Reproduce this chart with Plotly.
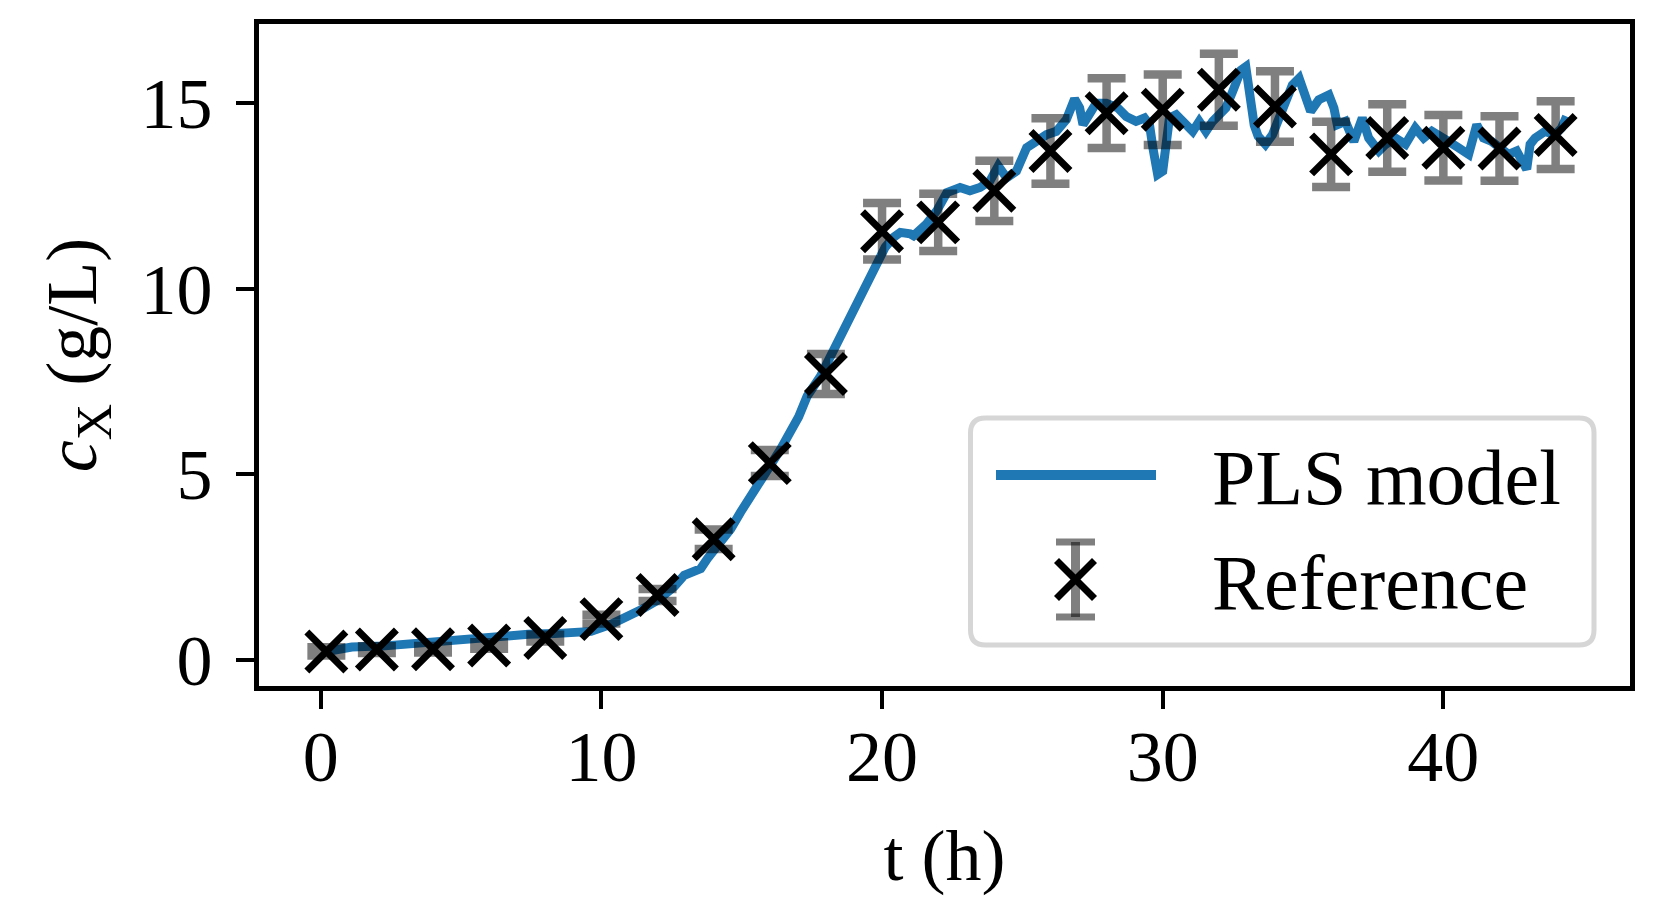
import plotly.graph_objects as go

# ---------------- data ----------------
# PLS model prediction (t in h, c_X in g/L)
model_t = [0.2, 0.52, 1.11, 2.29, 3.12, 4.07, 4.78, 5.49, 6.44, 7.39, 8.33, 9.16, 9.63,
           10.34, 10.82, 11.41, 12.0, 12.59, 12.95, 13.30, 13.54, 13.78, 14.13, 14.61,
           14.96, 15.32, 15.61, 16.03, 16.38, 16.74, 17.03, 17.33, 17.80, 18.22, 18.51,
           18.75, 19.05, 19.34, 19.64, 19.88, 20.11, 20.41, 20.65, 21.0, 21.12, 21.59,
           21.95, 22.31, 22.78, 23.13, 23.49, 23.84, 24.14, 24.44, 24.79, 25.15, 25.50,
           25.86, 26.21, 26.57, 26.86, 27.04, 27.16, 27.40, 27.63, 27.99, 28.40, 28.70,
           29.05, 29.35, 29.53, 29.65, 29.82, 30.0, 30.12, 30.24, 30.48, 30.83, 31.07,
           31.30, 31.54, 31.78, 32.07, 32.25, 32.49, 32.79, 32.96, 33.10, 33.26, 33.40,
           33.66, 33.91, 34.26, 34.62, 34.86, 35.09, 35.27, 35.56, 35.92, 36.10, 36.22,
           36.51, 36.81, 37.11, 37.34, 37.70, 37.94, 38.29, 38.65, 39.0, 39.30, 39.59,
           39.83, 40.18, 40.54, 40.90, 41.19, 41.43, 41.72, 42.08, 42.32, 42.61, 42.79,
           42.97, 43.09, 43.27, 43.62, 43.98, 44.21, 44.39]
model_cx = [0.23, 0.29, 0.35, 0.38, 0.44, 0.48, 0.52, 0.57, 0.63, 0.69, 0.71, 0.74, 0.77,
            0.96, 1.12, 1.35, 1.61, 1.97, 2.28, 2.42, 2.46, 2.73, 3.04, 3.53,
            3.98, 4.38, 4.74, 5.25, 5.67, 6.12, 6.55, 7.10, 7.63, 8.26, 8.70,
            8.97, 9.51, 9.95, 10.40, 10.75, 11.11, 11.38, 11.51, 11.47, 11.42, 11.74,
            12.09, 12.58, 12.72, 12.63, 12.72, 12.89, 13.30, 12.98, 13.16, 13.79, 13.96,
            14.14, 14.23, 14.55, 15.10, 14.86, 14.41, 14.77, 14.99, 14.99, 14.86, 14.63,
            14.50, 14.59, 14.41, 13.79, 13.07, 13.16, 13.96, 14.59, 14.68, 14.41, 14.23,
            14.50, 14.23, 14.50, 14.77, 14.86, 15.30, 15.88, 15.97, 15.10, 14.40, 14.10,
            13.88, 14.14, 14.86, 15.48, 15.66, 15.21, 14.77, 15.08, 15.21, 14.86, 14.41,
            14.50, 13.96, 14.59, 14.05, 13.70, 13.88, 14.05, 13.88, 14.32, 14.05, 14.23,
            14.14, 13.96, 13.79, 13.61, 14.41, 14.05, 13.96, 13.79, 13.61, 13.70, 13.43,
            13.21, 13.88, 14.05, 14.23, 14.14, 14.32, 14.63]

# Reference (offline) measurements with error bars
ref_t = [0.2, 2, 4, 6, 8, 10, 12, 14, 16, 18, 20, 22, 24, 26, 28, 30, 32, 34, 36, 38, 40, 42, 44]
ref_cx = [0.23, 0.28, 0.29, 0.39, 0.59, 1.10, 1.75, 3.25, 5.30, 7.70, 11.54, 11.78, 12.63,
          13.70, 14.72, 14.81, 15.35, 14.90, 13.61, 14.05, 13.79, 13.77, 14.13]
ref_err = [0.11, 0.09, 0.09, 0.09, 0.09, 0.12, 0.16, 0.26, 0.35, 0.54, 0.76, 0.77, 0.81,
           0.88, 0.94, 0.95, 0.97, 0.95, 0.88, 0.91, 0.88, 0.87, 0.91]

x_ticks = [0, 10, 20, 30, 40]
y_ticks = [0, 5, 10, 15]
x_title = "t (h)"
y_title = "<i>c</i><sub>X</sub> (g/L)"
legend_labels = ["PLS model", "Reference"]

# ---------------- styling ----------------
W, H = 1660, 921
OFF = 8                                   # default page body margin of the html
L, R, T, B = 259, 1630, 24, 686          # target plot-area pixel box (page coords)
BLUE = "#1f77b4"
ERR = "rgba(0,0,0,0.5)"
FONT = "Liberation Serif"
FS = 72


def px(x):
    return (x - L) / (R - L)


def py(y):
    return (B - y) / (B - T)


fig = go.Figure()
fig.add_trace(go.Scatter(x=model_t, y=model_cx, mode="lines",
                         line=dict(color=BLUE, width=9), name=legend_labels[0],
                         showlegend=False))
fig.add_trace(go.Scatter(x=ref_t, y=ref_cx, mode="markers", name=legend_labels[1],
                         marker=dict(symbol="x-thin", size=39, color="black",
                                     line=dict(color="black", width=7)),
                         error_y=dict(type="data", array=ref_err, visible=True,
                                      color=ERR, thickness=8.5, width=19),
                         showlegend=False))

axis_common = dict(showline=True, linecolor="black", linewidth=5, mirror=True,
                   ticks="outside", ticklen=18, tickwidth=4, tickcolor="black",
                   showgrid=False, zeroline=False,
                   tickfont=dict(family=FONT, size=FS, color="black"))

fig.update_xaxes(range=[-2.2, 46.65], tickvals=x_ticks, ticktext=[str(v) for v in x_ticks],
                 ticklabelstandoff=-14,
                 title=dict(text=x_title, font=dict(family=FONT, size=FS, color="black"),
                            standoff=35),
                 **axis_common)
fig.update_yaxes(range=[-0.70, 17.12], tickvals=y_ticks, ticktext=[str(v) for v in y_ticks],
                 ticklabelstandoff=9,
                 title=dict(text=y_title, font=dict(family=FONT, size=FS, color="black"),
                            standoff=22),
                 **axis_common)

# ---------------- custom legend (matplotlib style) ----------------
bx0, bx1, by0, by1, r = 970.5, 1594, 418, 645, 15
rx, ry = r / (R - L), r / (B - T)
X0, X1, Y0, Y1 = px(bx0), px(bx1), py(by0), py(by1)
path = (f"M{X0 + rx},{Y0} L{X1 - rx},{Y0} Q{X1},{Y0} {X1},{Y0 - ry} "
        f"L{X1},{Y1 + ry} Q{X1},{Y1} {X1 - rx},{Y1} L{X0 + rx},{Y1} "
        f"Q{X0},{Y1} {X0},{Y1 + ry} L{X0},{Y0 - ry} Q{X0},{Y0} {X0 + rx},{Y0} Z")
shapes = [dict(type="path", xref="paper", yref="paper", path=path,
               line=dict(color="#d6d6d6", width=5), fillcolor="rgba(255,255,255,0.8)",
               layer="above")]
# line sample
shapes.append(dict(type="line", xref="paper", yref="paper", x0=px(996), x1=px(1156),
                   y0=py(475), y1=py(475), line=dict(color=BLUE, width=10), layer="above"))
# errorbar + x sample
cx, cy = 1075.5, 579.5
shapes += [
    dict(type="line", xref="paper", yref="paper", x0=px(cx), x1=px(cx),
         y0=py(cy - 37.5), y1=py(cy + 37.5), line=dict(color=ERR, width=9), layer="above"),
    dict(type="line", xref="paper", yref="paper", x0=px(cx - 19.5), x1=px(cx + 19.5),
         y0=py(cy - 37.5), y1=py(cy - 37.5), line=dict(color=ERR, width=7), layer="above"),
    dict(type="line", xref="paper", yref="paper", x0=px(cx - 19.5), x1=px(cx + 19.5),
         y0=py(cy + 37.5), y1=py(cy + 37.5), line=dict(color=ERR, width=7), layer="above"),
    dict(type="line", xref="paper", yref="paper", x0=px(cx - 19), x1=px(cx + 19),
         y0=py(cy - 19), y1=py(cy + 19), line=dict(color="black", width=7), layer="above"),
    dict(type="line", xref="paper", yref="paper", x0=px(cx - 19), x1=px(cx + 19),
         y0=py(cy + 19), y1=py(cy - 19), line=dict(color="black", width=7), layer="above"),
]
annotations = [
    dict(text=legend_labels[0], xref="paper", yref="paper", x=px(1210), y=py(477),
         xanchor="left", yanchor="middle", showarrow=False,
         font=dict(family=FONT, size=FS + 6, color="black")),
    dict(text=legend_labels[1], xref="paper", yref="paper", x=px(1210), y=py(582),
         xanchor="left", yanchor="middle", showarrow=False,
         font=dict(family=FONT, size=FS + 6, color="black")),
]

fig.update_layout(width=W, height=H,
                  margin=dict(l=L - OFF, r=W - R + OFF, t=T - OFF, b=H - B + OFF),
                  paper_bgcolor="white", plot_bgcolor="white", showlegend=False,
                  shapes=shapes, annotations=annotations,
                  font=dict(family=FONT, size=FS, color="black"))

fig.write_html("out.html")
